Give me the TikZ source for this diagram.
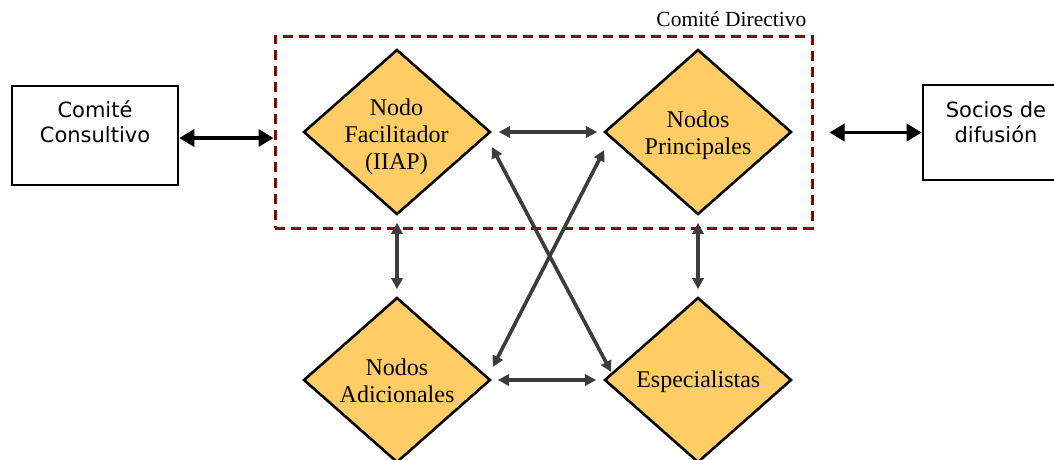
\documentclass[tikz,border=0pt]{standalone}
\usepackage{fontspec}
\setmainfont{Liberation Serif}
\newfontfamily\boxfont{DejaVu Sans}
\usetikzlibrary{arrows.meta,shapes.geometric}
\definecolor{nodefill}{RGB}{255,204,102}
\definecolor{linkgray}{RGB}{60,60,60}
\definecolor{boardred}{RGB}{139,0,0}

\begin{document}
\begin{tikzpicture}[x=1pt,y=-1pt,
  dia/.style={diamond, draw=black, line width=2.6pt, fill=nodefill,
    minimum width=187pt, minimum height=165pt, inner sep=0pt},
  dlabel/.style={align=center, inner sep=0pt, font=\fontsize{24}{27}\selectfont},
  extbox/.style={draw=black, line width=2.6pt, fill=white, inner sep=0pt,
    minimum width=166pt},
  extlabel/.style={align=center, inner sep=0pt, font=\boxfont\fontsize{21}{25}\selectfont},
  link/.style={draw=linkgray, line width=3.6pt,
    {Triangle[length=11pt,width=11pt]}-{Triangle[length=11pt,width=11pt]}},
  ext/.style={draw=black, line width=3.6pt,
    {Triangle[length=15pt,width=17pt]}-{Triangle[length=15pt,width=17pt]}},
  board/.style={draw=boardred, line width=3pt, dash pattern=on 10pt off 6pt,
    inner sep=0pt, minimum width=537pt, minimum height=192pt}]

\useasboundingbox (0,0) rectangle (1054,459);

% steering committee frame and its title
\node[board] (board) at (543.5,132) {};
\node[anchor=base east, inner sep=0pt, font=\fontsize{21.5}{24}\selectfont]
  (boardlabel) at ([xshift=-7pt,yshift=8pt]board.north east) {Comité Directivo};

% outside bodies
\node[extbox, minimum height=99pt] (cc) at (95,135.5) {};
\node[extlabel] (ccl) at (95,122) {Comité\\Consultivo};
\node[extbox, minimum height=95pt] (sd) at (1006,132.5) {};
\node[extlabel] (sdl) at (996,122.5) {Socios de\\difusión};

% network nodes
\node[dia] (fac) at (397,132) {};
\node[dia] (pri) at (698,132) {};
\node[dia] (adi) at (397,380) {};
\node[dia] (esp) at (698,380) {};
\node[dlabel] (facl) at (396.5,136.3) {Nodo\\Facilitador\\(IIAP)};
\node[dlabel] (pril) at (698,135.4) {Nodos\\Principales};
\node[dlabel] (adil) at (397,380.3) {Nodos\\Adicionales};
\node[dlabel] (espl) at (698.3,381.4) {Especialistas};

% links with the outside bodies
\draw[ext] ([yshift=-2.5pt]cc.east) -- ([yshift=-6pt]board.west);
\draw[ext] ([xshift=16pt]board.east |- sd.west) -- (sd.west);

% links between the nodes
\draw[link] ([xshift=7pt]fac.east) -- ([xshift=-6pt]pri.west);
\draw[link] ([xshift=6pt]adi.east) -- ([xshift=-7pt]esp.west);
\draw[link] ([yshift=-7pt]fac.south) -- ([yshift=7pt]adi.north);
\draw[link] ([yshift=-7pt]pri.south) -- ([yshift=7pt]esp.north);
\draw[link] ([yshift=-15pt]fac.east) -- ([xshift=8pt,yshift=8pt]esp.west);
\draw[link] ([xshift=1pt,yshift=-18pt]pri.west) -- ([xshift=1pt,yshift=13pt]adi.east);
\end{tikzpicture}
\end{document}
